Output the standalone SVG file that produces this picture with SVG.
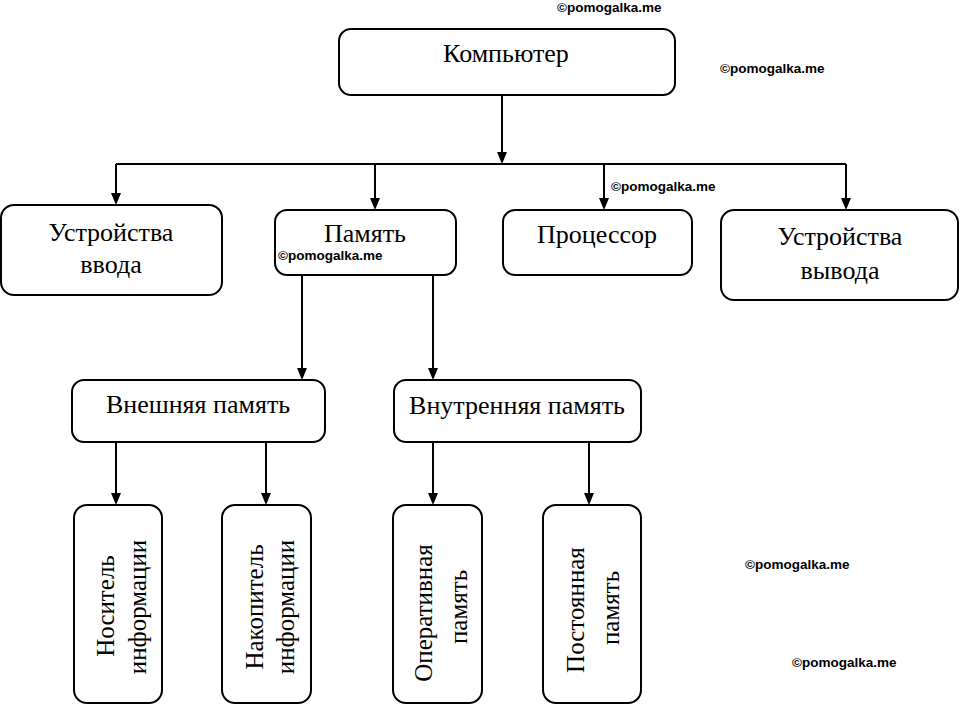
<svg xmlns="http://www.w3.org/2000/svg" width="960" height="711" viewBox="0 0 960 711">
<style>
.box{fill:#fff;stroke:#000;stroke-width:2}
.t{font-family:"Liberation Serif","Times New Roman",serif;font-size:26px;fill:#000;text-anchor:middle}
.v{font-family:"Liberation Serif","Times New Roman",serif;font-size:25px;fill:#000;text-anchor:middle}
.w{font-family:"Liberation Sans",Arial,sans-serif;font-size:13.5px;font-weight:bold;fill:#000}
.c{fill:none;stroke:#000;stroke-width:2}
</style>
<rect width="960" height="711" fill="#fff"/>
<g id="connectors">
<line class="c" x1="116" y1="164" x2="846" y2="164"/>
<line class="c" x1="502" y1="95" x2="502" y2="152"/>
<path d="M497,152 L507,152 L502,164 Z"/>
<line class="c" x1="116" y1="164" x2="116" y2="193"/>
<path d="M111,193 L121,193 L116,205 Z"/>
<line class="c" x1="375" y1="164" x2="375" y2="198"/>
<path d="M370,198 L380,198 L375,210 Z"/>
<line class="c" x1="604" y1="164" x2="604" y2="198"/>
<path d="M599,198 L609,198 L604,210 Z"/>
<line class="c" x1="846" y1="164" x2="846" y2="198"/>
<path d="M841,198 L851,198 L846,210 Z"/>
<line class="c" x1="302" y1="275" x2="302" y2="368"/>
<path d="M297,368 L307,368 L302,380 Z"/>
<line class="c" x1="433" y1="275" x2="433" y2="368"/>
<path d="M428,368 L438,368 L433,380 Z"/>
<line class="c" x1="116" y1="442" x2="116" y2="493"/>
<path d="M111,493 L121,493 L116,505 Z"/>
<line class="c" x1="266" y1="442" x2="266" y2="493"/>
<path d="M261,493 L271,493 L266,505 Z"/>
<line class="c" x1="433" y1="442" x2="433" y2="493"/>
<path d="M428,493 L438,493 L433,505 Z"/>
<line class="c" x1="589" y1="442" x2="589" y2="493"/>
<path d="M584,493 L594,493 L589,505 Z"/>
</g>
<g id="computer">
<rect class="box" x="339" y="29" width="336" height="66" rx="12"/>
<text class="t" x="506" y="62">Компьютер</text>
</g>
<g id="input">
<rect class="box" x="1" y="205" width="221" height="90" rx="13"/>
<text class="t" x="111" y="241">Устройства</text>
<text class="t" x="111" y="273">ввода</text>
</g>
<g id="memory">
<rect class="box" x="275" y="210" width="181" height="65" rx="12"/>
<text class="t" x="365" y="242">Память</text>
</g>
<g id="cpu">
<rect class="box" x="503" y="210" width="189" height="65" rx="12"/>
<text class="t" x="597" y="243">Процессор</text>
</g>
<g id="output">
<rect class="box" x="721" y="210" width="237" height="90" rx="13"/>
<text class="t" x="840" y="245">Устройства</text>
<text class="t" x="840" y="279">вывода</text>
</g>
<g id="external">
<rect class="box" x="72" y="380" width="253" height="62" rx="12"/>
<text class="t" x="198" y="413">Внешняя память</text>
</g>
<g id="internal">
<rect class="box" x="394" y="380" width="247" height="62" rx="12"/>
<text class="t" x="517" y="414">Внутренняя память</text>
</g>
<g id="carrier">
<rect class="box" x="74" y="505" width="88" height="198" rx="13"/>
<text class="v" transform="translate(114,606) rotate(-90)">Носитель</text>
<text class="v" transform="translate(146,607) rotate(-90)">информации</text>
</g>
<g id="storage">
<rect class="box" x="222" y="505" width="89" height="198" rx="13"/>
<text class="v" transform="translate(263,607) rotate(-90)">Накопитель</text>
<text class="v" transform="translate(294,607) rotate(-90)">информации</text>
</g>
<g id="ram">
<rect class="box" x="393" y="505" width="89" height="198" rx="13"/>
<text class="v" transform="translate(432,613) rotate(-90)">Оперативная</text>
<text class="v" transform="translate(467,607) rotate(-90)">память</text>
</g>
<g id="rom">
<rect class="box" x="543" y="505" width="98" height="198" rx="13"/>
<text class="v" transform="translate(584,610) rotate(-90)">Постоянная</text>
<text class="v" transform="translate(619,608) rotate(-90)">память</text>
</g>
<g id="watermarks">
<text class="w" x="557" y="12">©pomogalka.me</text>
<text class="w" x="720" y="73">©pomogalka.me</text>
<text class="w" x="611" y="191">©pomogalka.me</text>
<text class="w" x="278" y="260">©pomogalka.me</text>
<text class="w" x="745" y="569">©pomogalka.me</text>
<text class="w" x="792" y="667">©pomogalka.me</text>
</g>
</svg>
